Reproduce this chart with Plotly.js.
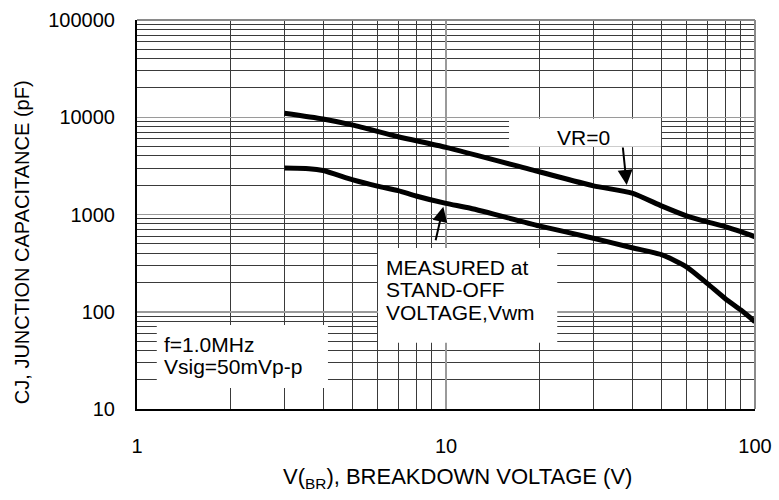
<!DOCTYPE html>
<html>
<head>
<meta charset="utf-8">
<script src="https://cdn.plot.ly/plotly-3.0.1.min.js"></script>
<style>html,body{margin:0;padding:0;background:#fff;}#chart{width:779px;height:500px;}</style>
</head>
<body>
<div id="chart"></div>
<script>
// Data
var vrZeroVoltage = [3, 4, 5, 7, 10, 20, 30, 40, 50, 60, 70, 80, 90, 100];
var vrZeroCap     = [11000, 9600, 8300, 6300, 4900, 2750, 1970, 1660, 1220, 970, 840, 750, 665, 590];

var vwmVoltage = [3, 3.6, 4, 5, 6, 7, 8, 10, 12, 20, 30, 40, 50, 60, 70, 80, 90, 100];
var vwmCap     = [3000, 2960, 2830, 2270, 1960, 1760, 1550, 1300, 1160, 765, 570, 455, 385, 290, 196, 137, 104, 79];

var xTickVals = [1, 10, 100];
var xTickText = ['1', '10', '100'];
var yTickVals = [10, 100, 1000, 10000, 100000];
var yTickText = ['10', '100', '1000', '10000', '100000'];

var xTitle = 'V(<sub>BR</sub>), BREAKDOWN VOLTAGE (V)';
var yTitle = 'CJ, JUNCTION CAPACITANCE (pF)';

function minorVals(decades) {
  var out = [];
  decades.forEach(function (d) { for (var k = 2; k <= 9; k++) out.push(d * k); });
  return out;
}
var xMinor = minorVals([1, 10]);
var yMinor = minorVals([10, 100, 1000, 10000]);

var FONT = 'Liberation Sans, Arial, sans-serif';

var traces = [
  {x: vrZeroVoltage, y: vrZeroCap, mode: 'lines', line: {color: '#000', width: 5, shape: 'spline', smoothing: 0.6}, hoverinfo: 'skip', showlegend: false},
  {x: vwmVoltage, y: vwmCap, mode: 'lines', line: {color: '#000', width: 5, shape: 'spline', smoothing: 0.6}, hoverinfo: 'skip', showlegend: false}
];

function box(x0, x1, y0, y1) {
  return {type: 'rect', xref: 'paper', yref: 'paper', x0: x0, x1: x1, y0: y0, y1: y1,
          fillcolor: '#fff', line: {width: 0}, layer: 'above'};
}

function label(txt, x, y, xanchor, size) {
  return {text: txt, xref: 'paper', yref: 'paper', x: x, y: y, xanchor: xanchor || 'left', yanchor: 'middle',
          showarrow: false, font: {family: FONT, size: size || 21, color: '#000'}};
}

var layout = {
  width: 779, height: 500,
  margin: {l: 137, r: 24, t: 20, b: 91},
  paper_bgcolor: '#fff', plot_bgcolor: '#fff',
  font: {family: FONT, size: 20, color: '#000'},
  xaxis: {
    type: 'log', range: [0, 2],
    tickmode: 'array', tickvals: xTickVals, ticktext: xTickText,
    ticks: '', ticklabelstandoff: 18,
    showgrid: true, gridcolor: '#9a9a9a', gridwidth: 1.5,
    minor: {tickmode: 'array', tickvals: xMinor, showgrid: true, gridcolor: '#3a3a3a', gridwidth: 1, ticks: ''},
    showline: true, linecolor: '#000', linewidth: 2,
    zeroline: false
  },
  yaxis: {
    type: 'log', range: [1, 5],
    tickmode: 'array', tickvals: yTickVals, ticktext: yTickText,
    ticks: '', ticklabelstandoff: 16,
    showgrid: true, gridcolor: '#9a9a9a', gridwidth: 1.5,
    minor: {tickmode: 'array', tickvals: yMinor, showgrid: true, gridcolor: '#3a3a3a', gridwidth: 1, ticks: ''},
    showline: true, linecolor: '#000', linewidth: 2,
    zeroline: false
  },
  shapes: [
    box(0.602, 0.848, 0.674, 0.746),
    box(0.390, 0.680, 0.170, 0.414),
    box(0.032, 0.309, 0.054, 0.216),
    {type: 'line', xref: 'paper', yref: 'paper', x0: 0, x1: 1, y0: 1, y1: 1, line: {color: '#8a8a8a', width: 2}, layer: 'above'},
    {type: 'line', xref: 'paper', yref: 'paper', x0: 1, x1: 1, y0: 0, y1: 1, line: {color: '#8a8a8a', width: 2}, layer: 'above'}
  ],
  annotations: [
    label(xTitle, 0.518, -0.177, 'center', 22),
    {text: yTitle, xref: 'paper', yref: 'paper', x: -0.186, y: 0.429, xanchor: 'center', yanchor: 'middle',
     textangle: -90, showarrow: false, font: {family: FONT, size: 20, color: '#000'}},
    label('VR=0', 0.7217, 0.699, 'center'),
    label('MEASURED at', 0.399, 0.365),
    label('STAND-OFF', 0.399, 0.306),
    label('VOLTAGE,Vwm', 0.399, 0.247),
    label('f=1.0MHz', 0.040, 0.167),
    label('Vsig=50mVp-p', 0.040, 0.1105),
    {text: '', xref: 'x', yref: 'y', x: 1.5848, y: 3.3033, ax: -4, ay: -39, axref: 'pixel', ayref: 'pixel',
     showarrow: true, arrowhead: 2, arrowsize: 1.5, arrowwidth: 2, arrowcolor: '#000', standoff: 0},
    {text: '', xref: 'x', yref: 'y', x: 0.9913, y: 3.080, ax: -8, ay: 35, axref: 'pixel', ayref: 'pixel',
     showarrow: true, arrowhead: 2, arrowsize: 1.5, arrowwidth: 2, arrowcolor: '#000', standoff: 0}
  ]
};

Plotly.newPlot('chart', traces, layout, {displayModeBar: false, staticPlot: true});
</script>
</body>
</html>
